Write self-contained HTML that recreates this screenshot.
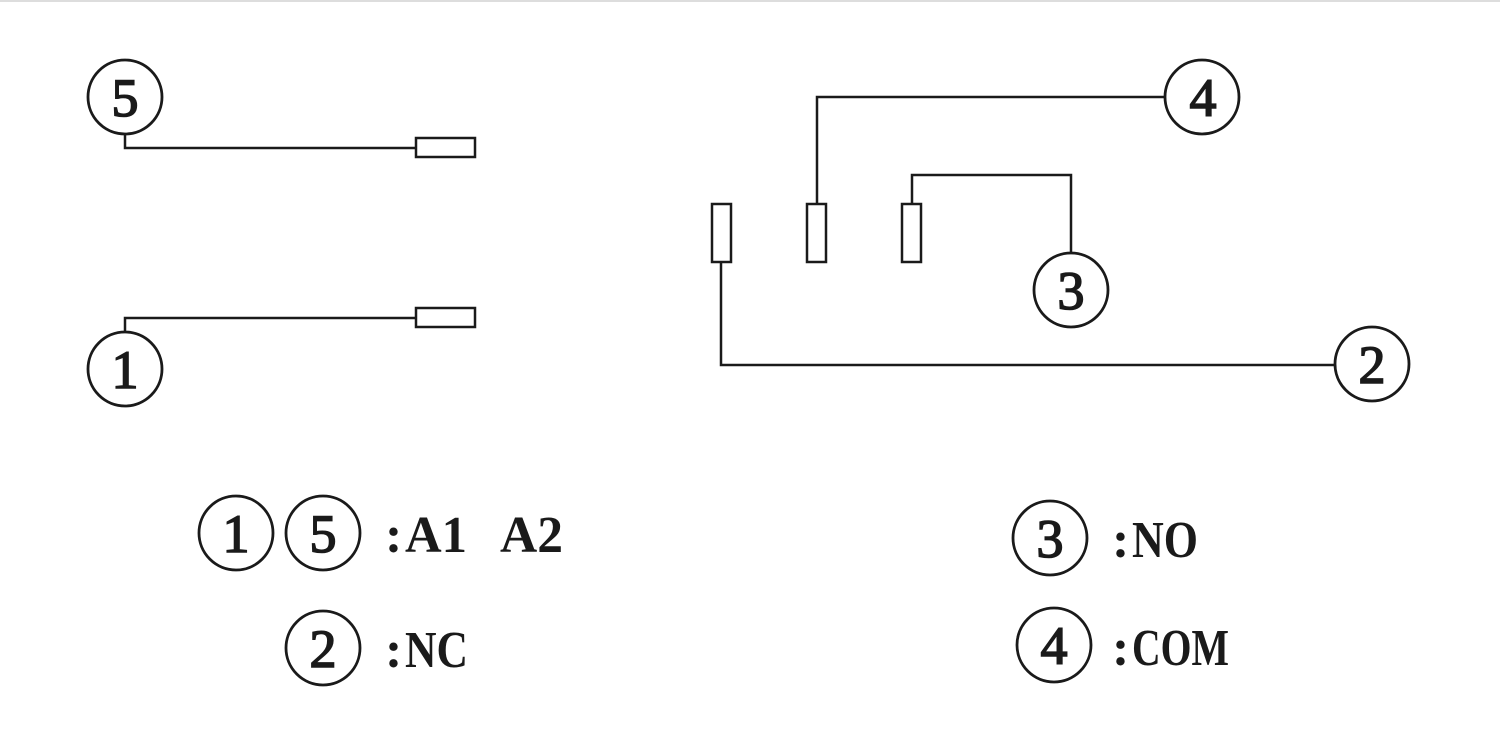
<!DOCTYPE html>
<html><head><style>html,body{margin:0;padding:0;background:#fff;width:1500px;height:735px;overflow:hidden}</style></head>
<body>
<svg width="1500" height="735" viewBox="0 0 1500 735" xmlns="http://www.w3.org/2000/svg">
<rect x="0" y="0" width="1500" height="2" fill="#ddd"/>
<g fill="none" stroke="#1a1a1a" stroke-width="2.5">
<polyline points="125,134 125,148 416,148"/>
<rect x="416" y="138" width="59" height="19"/>
<polyline points="125,332 125,318 416,318"/>
<rect x="416" y="308" width="59" height="19"/>
<polyline points="1165,97 817,97 817,204"/>
<rect x="807" y="204" width="19" height="58"/>
<rect x="902" y="204" width="19" height="58"/>
<polyline points="912,204 912,175 1071,175 1071,253"/>
<rect x="712" y="204" width="19" height="58"/>
<polyline points="721,262 721,365 1335,365"/>
</g>
<g fill="none" stroke="#1a1a1a" stroke-width="2.8">
<circle cx="125" cy="97" r="37"/>
<circle cx="125" cy="369" r="37"/>
<circle cx="1202" cy="97" r="37"/>
<circle cx="1071" cy="290" r="37"/>
<circle cx="1372" cy="364" r="37"/>
<circle cx="236" cy="533" r="37"/>
<circle cx="323" cy="533" r="37"/>
<circle cx="323" cy="648" r="37"/>
<circle cx="1050" cy="538" r="37"/>
<circle cx="1054" cy="645" r="37"/>
</g>
<g font-family="Liberation Serif, serif" font-size="54" fill="#1a1a1a" stroke="#1a1a1a" stroke-width="1.6" text-anchor="middle">
<text x="125" y="116">5</text>
<text x="125" y="388">1</text>
<text x="1203" y="116">4</text>
<text x="1071" y="309">3</text>
<text x="1372" y="383">2</text>
<text x="236" y="552">1</text>
<text x="323" y="552">5</text>
<text x="323" y="667">2</text>
<text x="1050" y="557">3</text>
<text x="1054" y="664">4</text>
</g>
<g font-family="Liberation Serif, serif" font-size="52" font-weight="bold" fill="#1a1a1a">
<text x="385" y="552">:</text>
<text x="405" y="552" textLength="62" lengthAdjust="spacingAndGlyphs">A1</text>
<text x="500" y="552" textLength="63" lengthAdjust="spacingAndGlyphs">A2</text>
<text x="385" y="667">:</text>
<text x="405" y="667" textLength="63" lengthAdjust="spacingAndGlyphs">NC</text>
<text x="1112" y="557">:</text>
<text x="1132" y="557" textLength="66" lengthAdjust="spacingAndGlyphs">NO</text>
<text x="1112" y="665">:</text>
<text x="1132" y="665" textLength="97" lengthAdjust="spacingAndGlyphs">COM</text>
</g>
</svg>
</body></html>
